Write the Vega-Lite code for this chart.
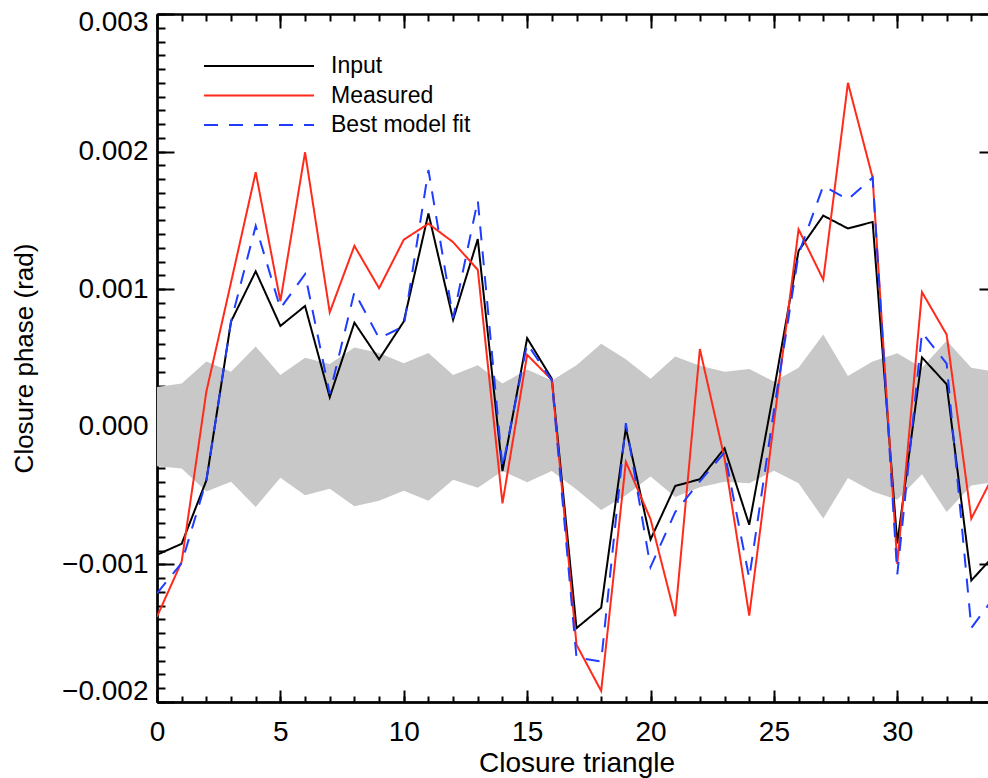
{
  "$schema": "https://vega.github.io/schema/vega-lite/v6.json",
  "width": 839,
  "height": 688,
  "autosize": {"type": "none"},
  "padding": {"left": 157, "top": 14, "right": -8, "bottom": 76},
  "background": "white",
  "config": {
    "view": {"stroke": null},
    "axis": {
      "grid": false,
      "domainColor": "black",
      "domainWidth": 2,
      "tickColor": "black",
      "tickWidth": 2,
      "labelFont": "Liberation Sans",
      "labelFontSize": 28,
      "labelColor": "black",
      "labelOverlap": false,
      "labelBound": false,
      "labelFlush": false,
      "titleFont": "Liberation Sans",
      "titleFontWeight": "normal",
      "titleColor": "black",
      "zindex": 1
    },
    "legend": {
      "title": null,
      "orient": "none",
      "legendX": 90,
      "legendY": 40,
      "symbolType": "M-5,0H5",
      "symbolSize": 484,
      "symbolStrokeWidth": 2,
      "labelFont": "Liberation Sans",
      "labelFontSize": 23,
      "labelColor": "black",
      "labelOffset": 60,
      "rowPadding": 5.5,
      "padding": 0
    }
  },
  "datasets": {
    "band": [
      {"i": 0, "lo": -0.000287, "hi": 0.00029},
      {"i": 1, "lo": -0.000303, "hi": 0.000314},
      {"i": 2, "lo": -0.00047, "hi": 0.000475},
      {"i": 3, "lo": -0.0004, "hi": 0.0004},
      {"i": 4, "lo": -0.000583, "hi": 0.000583},
      {"i": 5, "lo": -0.00037, "hi": 0.000376},
      {"i": 6, "lo": -0.000497, "hi": 0.000502},
      {"i": 7, "lo": -0.00045, "hi": 0.000456},
      {"i": 8, "lo": -0.000577, "hi": 0.000577},
      {"i": 9, "lo": -0.000537, "hi": 0.000537},
      {"i": 10, "lo": -0.000464, "hi": 0.000462},
      {"i": 11, "lo": -0.000537, "hi": 0.000537},
      {"i": 12, "lo": -0.000384, "hi": 0.000376},
      {"i": 13, "lo": -0.000443, "hi": 0.000448},
      {"i": 14, "lo": -0.000322, "hi": 0.000314},
      {"i": 15, "lo": -0.000403, "hi": 0.000416},
      {"i": 16, "lo": -0.000322, "hi": 0.000336},
      {"i": 17, "lo": -0.000456, "hi": 0.000448},
      {"i": 18, "lo": -0.000604, "hi": 0.000604},
      {"i": 19, "lo": -0.000497, "hi": 0.000491},
      {"i": 20, "lo": -0.000362, "hi": 0.000349},
      {"i": 21, "lo": -0.00051, "hi": 0.00051},
      {"i": 22, "lo": -0.00044, "hi": 0.000444},
      {"i": 23, "lo": -0.0004, "hi": 0.0004},
      {"i": 24, "lo": -0.00041, "hi": 0.00042},
      {"i": 25, "lo": -0.00032, "hi": 0.00033},
      {"i": 26, "lo": -0.00041, "hi": 0.00043},
      {"i": 27, "lo": -0.000667, "hi": 0.00067},
      {"i": 28, "lo": -0.000372, "hi": 0.00037},
      {"i": 29, "lo": -0.00047, "hi": 0.000475},
      {"i": 30, "lo": -0.00053, "hi": 0.000535},
      {"i": 31, "lo": -0.000345, "hi": 0.00043},
      {"i": 32, "lo": -0.00062, "hi": 0.000625},
      {"i": 33, "lo": -0.000426, "hi": 0.00043},
      {"i": 34, "lo": -0.0004, "hi": 0.0004}
    ],
    "lines": [
      {"i": 0, "series": "Input", "v": -0.00093},
      {"i": 1, "series": "Input", "v": -0.00085},
      {"i": 2, "series": "Input", "v": -0.00039},
      {"i": 3, "series": "Input", "v": 0.000765},
      {"i": 4, "series": "Input", "v": 0.00113},
      {"i": 5, "series": "Input", "v": 0.000733},
      {"i": 6, "series": "Input", "v": 0.000878},
      {"i": 7, "series": "Input", "v": 0.000215},
      {"i": 8, "series": "Input", "v": 0.000757},
      {"i": 9, "series": "Input", "v": 0.00049},
      {"i": 10, "series": "Input", "v": 0.000765},
      {"i": 11, "series": "Input", "v": 0.00155},
      {"i": 12, "series": "Input", "v": 0.000778},
      {"i": 13, "series": "Input", "v": 0.001364},
      {"i": 14, "series": "Input", "v": -0.000322},
      {"i": 15, "series": "Input", "v": 0.000644},
      {"i": 16, "series": "Input", "v": 0.000349},
      {"i": 17, "series": "Input", "v": -0.001463},
      {"i": 18, "series": "Input", "v": -0.001315},
      {"i": 19, "series": "Input", "v": -0.000008},
      {"i": 20, "series": "Input", "v": -0.000819},
      {"i": 21, "series": "Input", "v": -0.00043},
      {"i": 22, "series": "Input", "v": -0.000381},
      {"i": 23, "series": "Input", "v": -0.000156},
      {"i": 24, "series": "Input", "v": -0.000712},
      {"i": 25, "series": "Input", "v": 0.000264},
      {"i": 26, "series": "Input", "v": 0.001279},
      {"i": 27, "series": "Input", "v": 0.001535},
      {"i": 28, "series": "Input", "v": 0.001441},
      {"i": 29, "series": "Input", "v": 0.001489},
      {"i": 30, "series": "Input", "v": -0.000847},
      {"i": 31, "series": "Input", "v": 0.000504},
      {"i": 32, "series": "Input", "v": 0.000309},
      {"i": 33, "series": "Input", "v": -0.001117},
      {"i": 34, "series": "Input", "v": -0.00092},
      {"i": 0, "series": "Measured", "v": -0.00138},
      {"i": 1, "series": "Measured", "v": -0.00098},
      {"i": 2, "series": "Measured", "v": 0.000255},
      {"i": 3, "series": "Measured", "v": 0.00105},
      {"i": 4, "series": "Measured", "v": 0.00185},
      {"i": 5, "series": "Measured", "v": 0.000913},
      {"i": 6, "series": "Measured", "v": 0.001995},
      {"i": 7, "series": "Measured", "v": 0.000832},
      {"i": 8, "series": "Measured", "v": 0.001315},
      {"i": 9, "series": "Measured", "v": 0.001007},
      {"i": 10, "series": "Measured", "v": 0.00136},
      {"i": 11, "series": "Measured", "v": 0.001476},
      {"i": 12, "series": "Measured", "v": 0.001342},
      {"i": 13, "series": "Measured", "v": 0.001141},
      {"i": 14, "series": "Measured", "v": -0.000556},
      {"i": 15, "series": "Measured", "v": 0.000523},
      {"i": 16, "series": "Measured", "v": 0.000341},
      {"i": 17, "series": "Measured", "v": -0.001584},
      {"i": 18, "series": "Measured", "v": -0.00192},
      {"i": 19, "series": "Measured", "v": -0.000255},
      {"i": 20, "series": "Measured", "v": -0.000671},
      {"i": 21, "series": "Measured", "v": -0.001377},
      {"i": 22, "series": "Measured", "v": 0.000565},
      {"i": 23, "series": "Measured", "v": -0.00023},
      {"i": 24, "series": "Measured", "v": -0.001372},
      {"i": 25, "series": "Measured", "v": 0.00003},
      {"i": 26, "series": "Measured", "v": 0.001435},
      {"i": 27, "series": "Measured", "v": 0.001069},
      {"i": 28, "series": "Measured", "v": 0.0025},
      {"i": 29, "series": "Measured", "v": 0.001811},
      {"i": 30, "series": "Measured", "v": -0.000997},
      {"i": 31, "series": "Measured", "v": 0.000979},
      {"i": 32, "series": "Measured", "v": 0.00067},
      {"i": 33, "series": "Measured", "v": -0.000667},
      {"i": 34, "series": "Measured", "v": -0.000316},
      {"i": 0, "series": "Best model fit", "v": -0.00121},
      {"i": 1, "series": "Best model fit", "v": -0.00099},
      {"i": 2, "series": "Best model fit", "v": -0.00039},
      {"i": 3, "series": "Best model fit", "v": 0.000765},
      {"i": 4, "series": "Best model fit", "v": 0.00146},
      {"i": 5, "series": "Best model fit", "v": 0.00086},
      {"i": 6, "series": "Best model fit", "v": 0.00111},
      {"i": 7, "series": "Best model fit", "v": 0.00024},
      {"i": 8, "series": "Best model fit", "v": 0.00098},
      {"i": 9, "series": "Best model fit", "v": 0.000644},
      {"i": 10, "series": "Best model fit", "v": 0.00073},
      {"i": 11, "series": "Best model fit", "v": 0.001866},
      {"i": 12, "series": "Best model fit", "v": 0.00079},
      {"i": 13, "series": "Best model fit", "v": 0.001646},
      {"i": 14, "series": "Best model fit", "v": -0.000295},
      {"i": 15, "series": "Best model fit", "v": 0.000604},
      {"i": 16, "series": "Best model fit", "v": 0.000336},
      {"i": 17, "series": "Best model fit", "v": -0.001678},
      {"i": 18, "series": "Best model fit", "v": -0.001705},
      {"i": 19, "series": "Best model fit", "v": 0.000027},
      {"i": 20, "series": "Best model fit", "v": -0.00102},
      {"i": 21, "series": "Best model fit", "v": -0.00062},
      {"i": 22, "series": "Best model fit", "v": -0.000396},
      {"i": 23, "series": "Best model fit", "v": -0.000186},
      {"i": 24, "series": "Best model fit", "v": -0.0011},
      {"i": 25, "series": "Best model fit", "v": 0.00012},
      {"i": 26, "series": "Best model fit", "v": 0.001255},
      {"i": 27, "series": "Best model fit", "v": 0.001751},
      {"i": 28, "series": "Best model fit", "v": 0.001652},
      {"i": 29, "series": "Best model fit", "v": 0.001811},
      {"i": 30, "series": "Best model fit", "v": -0.001072},
      {"i": 31, "series": "Best model fit", "v": 0.000685},
      {"i": 32, "series": "Best model fit", "v": 0.000459},
      {"i": 33, "series": "Best model fit", "v": -0.001462},
      {"i": 34, "series": "Best model fit", "v": -0.00122}
    ]
  },
  "layer": [
    {
      "data": {"name": "band"},
      "mark": {"type": "area", "color": "#c8c8c8"},
      "encoding": {
        "x": {
          "field": "i", "type": "quantitative",
          "scale": {"domain": [0, 34], "nice": false, "zero": false},
          "axis": {"orient": "bottom", "values": [0, 5, 10, 15, 20, 25, 30], "ticks": false, "labelPadding": 16, "labelFlush": false, "format": "d", "title": "Closure triangle", "titleFontSize": 28, "titlePadding": 3, "domain": true}
        },
        "y": {
          "field": "lo", "type": "quantitative",
          "scale": {"domain": [-0.002, 0.003], "nice": false, "zero": false},
          "axis": {"orient": "left", "values": [-0.002, -0.001, 0, 0.001, 0.002, 0.003], "ticks": false, "labelPadding": 9, "format": ".3f", "labelFlush": false, "labelOffset": {"expr": "datum.value > 0.0029 ? 8 : (datum.value < -0.0019 ? -11 : 0)"}, "title": "Closure phase (rad)", "titleFontSize": 26, "titlePadding": 24, "domain": true}
        },
        "y2": {"field": "hi"}
      }
    },
    {
      "data": {"name": "lines"},
      "mark": {"type": "line", "strokeWidth": 2, "clip": true},
      "encoding": {
        "x": {
          "field": "i", "type": "quantitative",
          "scale": {"domain": [0, 34], "nice": false, "zero": false},
          "axis": {"orient": "bottom", "values": [0, 5, 10, 15, 20, 25, 30], "tickSize": -12, "labels": false, "domain": true, "title": null}
        },
        "y": {
          "field": "v", "type": "quantitative",
          "scale": {"domain": [-0.002, 0.003], "nice": false, "zero": false},
          "axis": {"orient": "left", "values": [-0.002, -0.001, 0, 0.001, 0.002, 0.003], "tickSize": -17, "labels": false, "domain": true, "title": null}
        },
        "color": {
          "field": "series", "type": "nominal",
          "scale": {"domain": ["Input", "Measured", "Best model fit"], "range": ["#000000", "#ff2a1a", "#1f3cff"]},
          "legend": {"title": null}
        },
        "strokeDash": {
          "field": "series", "type": "nominal",
          "scale": {"domain": ["Input", "Measured", "Best model fit"], "range": [[1, 0], [1, 0], [14, 11]]},
          "legend": {"title": null}
        }
      }
    },
    {
      "data": {"name": "band"},
      "mark": {"type": "point", "opacity": 0},
      "encoding": {
        "x": {
          "field": "i", "type": "quantitative",
          "scale": {"domain": [0, 34], "nice": false, "zero": false},
          "axis": {"orient": "bottom", "values": [0,1,2,3,4,5,6,7,8,9,10,11,12,13,14,15,16,17,18,19,20,21,22,23,24,25,26,27,28,29,30,31,32,33,34], "tickSize": -6, "labels": false, "domain": true, "title": null}
        },
        "y": {
          "field": "hi", "type": "quantitative",
          "scale": {"domain": [-0.002, 0.003], "nice": false, "zero": false},
          "axis": {"orient": "left", "values": [-0.002,-0.0019,-0.0018,-0.0017,-0.0016,-0.0015,-0.0014,-0.0013,-0.0012,-0.0011,-0.001,-0.0009,-0.0008,-0.0007,-0.0006,-0.0005,-0.0004,-0.0003,-0.0002,-0.0001,0,0.0001,0.0002,0.0003,0.0004,0.0005,0.0006,0.0007,0.0008,0.0009,0.001,0.0011,0.0012,0.0013,0.0014,0.0015,0.0016,0.0017,0.0018,0.0019,0.002,0.0021,0.0022,0.0023,0.0024,0.0025,0.0026,0.0027,0.0028,0.0029,0.003], "tickSize": -8, "labels": false, "domain": true, "title": null}
        }
      }
    },
    {
      "data": {"name": "band"},
      "mark": {"type": "point", "opacity": 0},
      "encoding": {
        "x": {
          "field": "i", "type": "quantitative",
          "scale": {"domain": [0, 34], "nice": false, "zero": false},
          "axis": {"orient": "top", "values": [0, 5, 10, 15, 20, 25, 30], "tickSize": -14, "labels": false, "domain": true, "title": null}
        },
        "y": {
          "field": "hi", "type": "quantitative",
          "scale": {"domain": [-0.002, 0.003], "nice": false, "zero": false},
          "axis": {"orient": "right", "values": [-0.002, -0.001, 0, 0.001, 0.002, 0.003], "tickSize": -17, "labels": false, "domain": true, "title": null}
        }
      }
    },
    {
      "data": {"name": "band"},
      "mark": {"type": "point", "opacity": 0},
      "encoding": {
        "x": {
          "field": "i", "type": "quantitative",
          "scale": {"domain": [0, 34], "nice": false, "zero": false},
          "axis": {"orient": "top", "values": [0,1,2,3,4,5,6,7,8,9,10,11,12,13,14,15,16,17,18,19,20,21,22,23,24,25,26,27,28,29,30,31,32,33,34], "tickSize": -7, "labels": false, "domain": true, "title": null}
        },
        "y": {
          "field": "lo", "type": "quantitative",
          "scale": {"domain": [-0.002, 0.003], "nice": false, "zero": false},
          "axis": {"orient": "right", "values": [-0.002,-0.0019,-0.0018,-0.0017,-0.0016,-0.0015,-0.0014,-0.0013,-0.0012,-0.0011,-0.001,-0.0009,-0.0008,-0.0007,-0.0006,-0.0005,-0.0004,-0.0003,-0.0002,-0.0001,0,0.0001,0.0002,0.0003,0.0004,0.0005,0.0006,0.0007,0.0008,0.0009,0.001,0.0011,0.0012,0.0013,0.0014,0.0015,0.0016,0.0017,0.0018,0.0019,0.002,0.0021,0.0022,0.0023,0.0024,0.0025,0.0026,0.0027,0.0028,0.0029,0.003], "tickSize": -8, "labels": false, "domain": true, "title": null}
        }
      }
    }
  ],
  "resolve": {"axis": {"x": "independent", "y": "independent"}}
}
